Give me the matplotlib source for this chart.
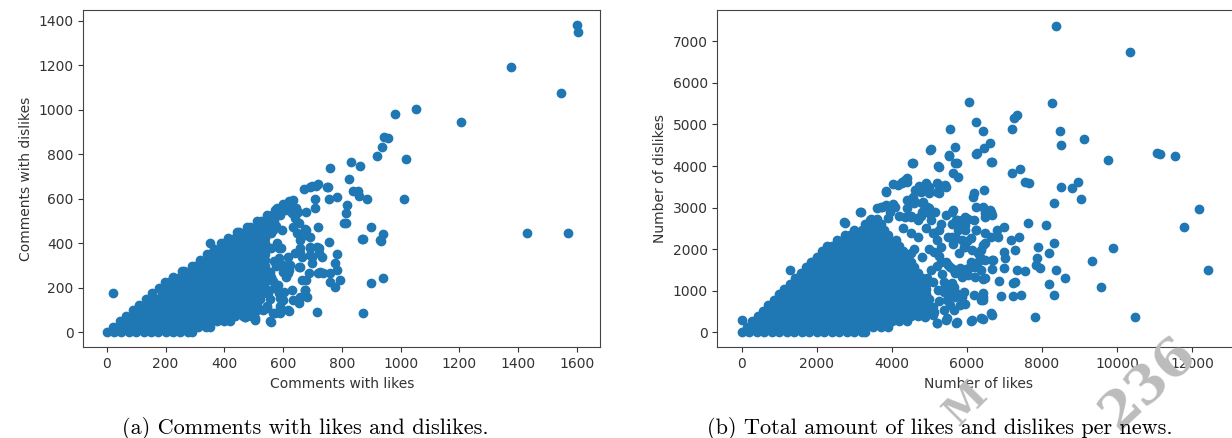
import numpy as np
import matplotlib.pyplot as plt

BLUE = "#1f77b4"

# ---- (a) comments with likes vs comments with dislikes ----
# dense wedge near the origin, read row by row (y level -> x values)
a_rows_y = [0, 25, 50, 75, 100, 125, 150, 175, 200, 225, 250, 275, 300,
            325, 350, 375, 400, 425, 450, 475, 500, 525, 550, 575]
a_rows_x = [
    [0, 25, 50, 75, 100, 125, 150, 175, 200, 225, 250, 275, 290],
    [22, 37, 62, 87, 112, 137, 162, 187, 212, 237, 262, 287, 312, 337, 352],
    [44, 75, 100, 125, 150, 175, 200, 225, 250, 275, 300, 325, 350, 375, 400, 420],
    [66, 87, 112, 137, 162, 187, 212, 237, 262, 287, 312, 337, 362, 387, 412, 437, 462, 490],
    [88, 100, 125, 150, 175, 200, 225, 250, 275, 300, 325, 350, 375, 400, 425, 450, 475, 500, 510],
    [110, 137, 162, 187, 212, 237, 262, 287, 312, 337, 362, 387, 412, 437, 462, 487, 512],
    [133, 150, 175, 200, 225, 250, 275, 300, 325, 350, 375, 400, 425, 450, 475, 500, 520],
    [155, 187, 212, 237, 262, 287, 312, 337, 362, 387, 412, 437, 462, 487, 512, 530],
    [177, 200, 225, 250, 275, 300, 325, 350, 375, 400, 425, 450, 475, 500, 525, 540],
    [199, 212, 237, 262, 287, 312, 337, 362, 387, 412, 437, 462, 487, 512, 537],
    [226, 250, 275, 300, 325, 350, 375, 400, 425, 450, 475, 500, 525, 540],
    [256, 262, 287, 312, 337, 362, 387, 412, 437, 462, 487, 512, 537],
    [290, 300, 325, 350, 375, 400, 425, 450, 475, 500, 525, 540],
    [317, 337, 362, 387, 412, 437, 462, 487, 512, 537],
    [340, 350, 375, 400, 425, 450, 475, 500, 525, 540],
    [364, 387, 412, 437, 462, 487, 512, 537],
    [388, 400, 425, 450, 475, 500, 525, 540],
    [411, 437, 462, 487, 512, 537],
    [442, 450, 475, 500, 525, 550],
    [476, 487, 512, 537, 560],
    [510, 525, 550, 570],
    [545, 562, 590],
    [573, 600],
    [600],
]
# scattered comments outside the wedge
a_x = [981, 1051, 943, 956, 935, 918, 1018, 1013, 830, 862, 761, 824, 839, 856,
       858, 887, 752, 720, 692, 671, 709, 756, 782, 819, 814, 807, 898, 873,
       941, 933, 939, 898, 872, 714, 720, 709, 678, 756, 782, 723, 731, 692,
       777, 782, 720, 735, 692, 697, 760, 777, 794, 658, 640, 658, 663, 674,
       682, 688, 624, 618, 587, 635, 674, 629, 617, 634, 629, 635, 618, 589,
       556, 567, 533, 504, 470, 603, 589, 601, 584, 618, 658, 674, 692, 1204,
       1375, 1600, 1603, 1546, 1429, 1571, 20, 352, 288, 750, 697, 713, 717,
       722, 693, 700, 726, 760, 659, 666, 653, 679, 673, 659, 653, 619, 559,
       586, 599, 589, 572, 546, 506, 472, 594, 586, 599, 619, 610, 597, 559,
       629, 639, 653, 679, 649, 813, 869, 931, 565, 560, 570, 555, 565, 550,
       560, 575, 580, 575, 560, 570, 555, 545, 610, 580, 620, 630, 645, 650]
a_y = [980, 1003, 879, 871, 834, 793, 780, 599, 766, 747, 738, 689, 636, 635,
       612, 599, 654, 665, 651, 642, 600, 599, 606, 570, 537, 490, 474, 418,
       440, 411, 245, 224, 85, 93, 474, 557, 542, 407, 352, 377, 340, 385,
       310, 280, 265, 265, 347, 310, 227, 205, 235, 355, 355, 295, 235, 190,
       160, 266, 302, 265, 377, 474, 463, 564, 581, 594, 190, 145, 100, 85,
       51, 85, 100, 63, 70, 182, 153, 272, 212, 340, 415, 437, 430, 946,
       1190, 1380, 1350, 1073, 448, 448, 175, 400, 10, 654, 659, 657, 385,
       355, 377, 340, 273, 265, 377, 340, 295, 235, 190, 160, 130, 97, 48,
       175, 145, 118, 85, 108, 55, 70, 377, 332, 302, 280, 250, 462, 445,
       537, 512, 490, 460, 445, 492, 418, 415, 460, 380, 320, 270, 230, 175,
       500, 480, 400, 300, 250, 200, 150, 120, 550, 560, 590, 590, 560, 540]

# ---- (b) likes vs dislikes per news ----
b_rows_y = [0, 130, 260, 390, 520, 650, 780, 910, 1040, 1170, 1300, 1430,
            1560, 1690, 1820, 1950, 2080, 2210, 2340, 2470, 2600, 2730]
b_rows_x = [
    [0, 200, 400, 600, 800, 1000, 1200, 1400, 1600, 1800, 2000, 2200, 2400, 2600, 2800, 3000, 3200, 3300],
    [143, 300, 500, 700, 900, 1100, 1300, 1500, 1700, 1900, 2100, 2300, 2500, 2700, 2900, 3100, 3300, 3500, 3700, 3900],
    [286, 400, 600, 800, 1000, 1200, 1400, 1600, 1800, 2000, 2200, 2400, 2600, 2800, 3000, 3200, 3400, 3600, 3800, 4000, 4200, 4400],
    [429, 500, 700, 900, 1100, 1300, 1500, 1700, 1900, 2100, 2300, 2500, 2700, 2900, 3100, 3300, 3500, 3700, 3900, 4100, 4300, 4500, 4700],
    [572, 690, 800, 1000, 1200, 1400, 1600, 1800, 2000, 2200, 2400, 2600, 2800, 3000, 3200, 3400, 3600, 3800, 4000, 4200, 4400, 4600, 4800, 4900],
    [715, 900, 1100, 1300, 1500, 1700, 1900, 2100, 2300, 2500, 2700, 2900, 3100, 3300, 3500, 3700, 3900, 4100, 4300, 4500, 4700, 4900],
    [858, 1000, 1200, 1400, 1600, 1800, 2000, 2200, 2400, 2600, 2800, 3000, 3200, 3400, 3600, 3800, 4000, 4200, 4400, 4600, 4800, 4900],
    [1001, 1100, 1300, 1500, 1700, 1900, 2100, 2300, 2500, 2700, 2900, 3100, 3300, 3500, 3700, 3900, 4100, 4300, 4500, 4700, 4900],
    [1144, 1200, 1400, 1600, 1800, 2000, 2200, 2400, 2600, 2800, 3000, 3200, 3400, 3600, 3800, 4000, 4200, 4400, 4600, 4800, 4900],
    [1287, 1500, 1700, 1900, 2100, 2300, 2500, 2700, 2900, 3100, 3300, 3500, 3700, 3900, 4100, 4300, 4500, 4700, 4900],
    [1430, 1600, 1800, 2000, 2200, 2400, 2600, 2800, 3000, 3200, 3400, 3600, 3800, 4000, 4200, 4400, 4600, 4800],
    [1573, 1700, 1900, 2100, 2300, 2500, 2700, 2900, 3100, 3300, 3500, 3700, 3900, 4100, 4300, 4500, 4700],
    [1716, 1800, 2000, 2200, 2400, 2600, 2800, 3000, 3200, 3400, 3600, 3800, 4000, 4200, 4400, 4600],
    [1859, 1900, 2100, 2300, 2500, 2700, 2900, 3100, 3300, 3500, 3700, 3900, 4100, 4300, 4500],
    [2002, 2200, 2400, 2600, 2800, 3000, 3200, 3400, 3600, 3800, 4000, 4200, 4400],
    [2145, 2300, 2500, 2700, 2900, 3100, 3300, 3500, 3700, 3900, 4100, 4300],
    [2288, 2400, 2600, 2800, 3000, 3200, 3400, 3600, 3800, 4000, 4200],
    [2550, 2700, 2900, 3100, 3300, 3500, 3700, 3900, 4100],
    [2750, 2900, 3100, 3300, 3500, 3700, 3900],
    [2990, 3200, 3400, 3600, 3800],
    [3280, 3500, 3700],
    [3450, 3600],
]
b_x = [8383, 10346, 6057, 8258, 5558, 6254, 6420, 7199, 7251, 7324, 8466, 8497,
       9110, 5039, 5693, 5527, 6254, 6462, 6628, 6669, 4540, 5246, 5734, 5631,
       5766, 7188, 7406, 7552, 7656, 9764, 11063, 11135, 11530, 8497, 8799,
       8955, 9027, 8331, 12184, 11769, 9899, 12413, 9318, 9557, 10471, 7812,
       8103, 8310, 8175, 7895, 7864, 7843, 7947, 8383, 8622, 8175, 8310, 7635,
       7376, 7168, 7293, 6991, 7011, 6981, 6804, 6835, 6991, 7324, 7552, 7220,
       7293, 6908, 7220, 7427, 6856, 6669, 6669, 6441, 6441, 6493, 6233, 6181,
       6233, 6420, 6493, 6628, 6669, 6462, 6181, 6150, 5631, 5734, 5870, 6026,
       6109, 5922, 5714, 5631, 6285, 6358, 6285, 6181, 6078, 5974, 5818, 5631,
       5558, 5506, 6441, 6441, 6181, 5922, 5714, 5953, 5818, 5662, 5402, 5475,
       5402, 5714, 5454, 5194, 6098, 6420, 6669, 5111, 4987, 4883, 5246, 5111,
       5298, 5194, 5121, 5246, 4987, 4935, 4831, 4914, 4987, 4779, 4727, 4623,
       4571, 4416, 5246, 5454, 5246, 4416, 4343, 4260, 4156, 3844, 3740, 3844,
       4021, 4083, 3169, 2754, 3408, 3501, 4364, 4519, 4675, 4779, 1303, 2730,
       3155, 3717, 3833, 4555, 4273, 4405, 4035, 5224, 5683, 6282, 6652, 5525,
       5023, 5198, 5419, 5215, 4713, 4933, 4978, 4626, 4801, 4819, 5594, 5440,
       5771, 5947, 5947, 5771, 5947, 5594, 5859, 5947, 6123, 6255, 6475, 6475,
       6652, 6652, 6475, 6387, 6696, 6475, 6211, 6387, 6211, 6035, 5859, 5682,
       5594, 5418, 5242, 5506, 5682, 5859, 6475, 6431, 6387, 6652, 6387, 6123,
       5726, 5462, 5198, 5110, 0, 5050, 5100, 5000, 5050, 5150, 5000, 5300,
       5200, 5350, 5000, 5100, 5250, 5400, 5450, 5500, 5600, 5700, 4500, 4700,
       4400, 4600, 4800, 4300, 4500, 4700, 4900, 4600, 4800, 4500, 3600, 3950,
       4200, 3900, 5650, 5800, 6000, 6100, 5550, 5300, 5100, 4950]
b_y = [7378, 6753, 5550, 5510, 4884, 5069, 4852, 4884, 5149, 5229, 4852, 4507,
       4660, 4403, 4467, 4243, 4283, 4443, 4547, 4098, 4066, 3986, 4066, 3842,
       3745, 3842, 3922, 3625, 3585, 4146, 4323, 4283, 4251, 3505, 3465,
       3625, 3208, 3104, 2959, 2542, 2021, 1500, 1724, 1083, 377, 377,
       2582, 2157, 1901, 2061, 1780, 1620, 1540, 1500, 1315, 1155, 898, 2622,
       2286, 2222, 1981, 1941, 1780, 1540, 2462, 2302, 2542, 1500, 1484, 1179,
       1203, 874, 874, 898, 1235, 1516, 1740, 1275, 2101, 2382, 2462, 2703,
       3024, 3024, 2863, 2943, 2823, 3424, 3344, 3264, 2943, 2703, 2703, 2719,
       2262, 2061, 2262, 2125, 1917, 1820, 1700, 1580, 1580, 1516, 1540, 1516,
       1580, 1620, 938, 778, 898, 978, 938, 674, 658, 537, 537, 778,
       978, 233, 297, 233, 273, 313, 417, 497, 577, 377, 1836, 1941,
       2061, 2222, 2382, 2462, 2863, 3024, 3144, 3585, 3505, 3384, 3465, 3424,
       3264, 3184, 3545, 3505, 3344, 3625, 3665, 3585, 3545, 3400, 3007, 3064,
       3088, 3007, 2887, 2638, 2703, 2606, 2783, 2783, 2743, 2799, 1500, 2661,
       2886, 3021, 3383, 4065, 3608, 3704, 3560, 4000, 4065, 4306, 4090, 4265,
       4386, 3584, 3544, 3364, 3520, 3488, 3343, 3142, 3102, 2901, 2901, 2821,
       2661, 2581, 2781, 2460, 2460, 2300, 2220, 2060, 1979, 2460, 2781, 2942,
       2902, 2300, 2140, 1979, 1739, 1739, 1578, 1498, 1338, 1378, 1338, 1418,
       1177, 1097, 1017, 937, 857, 857, 1298, 857, 776, 456, 335, 295,
       255, 335, 231, 416, 300, 1500, 1200, 2000, 2700, 2900, 3000, 2600,
       1600, 1400, 800, 600, 750, 1200, 1700, 2300, 2600, 2700, 2800, 2700,
       3000, 3100, 2900, 2500, 2400, 2300, 2500, 2000, 1800, 1900, 3000, 2900,
       2800, 2750, 1100, 1900, 2200, 1700, 650, 1700, 2400, 1300]


def flatten(rows_y, rows_x, xs, ys):
    px = [x for row in rows_x for x in row] + list(xs)
    py = [y for y, row in zip(rows_y, rows_x) for _ in row] + list(ys)
    return np.array(px), np.array(py)


plt.rcParams.update({"font.family": "DejaVu Sans", "font.size": 10})
fig = plt.figure(figsize=(12.32, 4.38), dpi=100)
W, H = 1232, 438
axA = fig.add_axes([83.3 / W, 1 - 347.3 / H, (600.4 - 83.3) / W, 337.3 / H])
axB = fig.add_axes([717.4 / W, 1 - 347.3 / H, (1240 - 717.4) / W, 337.3 / H])

xa, ya = flatten(a_rows_y, a_rows_x, a_x, a_y)
axA.scatter(xa, ya, s=36, color=BLUE, linewidths=1.0, edgecolors=BLUE)
axA.set_xlim(-80, 1680)
axA.set_ylim(-67, 1448)
axA.set_xticks([0, 200, 400, 600, 800, 1000, 1200, 1400, 1600])
axA.set_yticks([0, 200, 400, 600, 800, 1000, 1200, 1400])
axA.set_xlabel("Comments with likes", color="#333333")
axA.set_ylabel("Comments with dislikes", color="#333333")

xb, yb = flatten(b_rows_y, b_rows_x, b_x, b_y)
axB.scatter(xb, yb, s=36, color=BLUE, linewidths=1.0, edgecolors=BLUE)
axB.set_xlim(-642, 13270)
axB.set_ylim(-361, 7753)
axB.set_xticks([0, 2000, 4000, 6000, 8000, 10000, 12000])
axB.set_yticks([0, 1000, 2000, 3000, 4000, 5000, 6000, 7000])
axB.set_xlabel("Number of likes", color="#333333")
axB.set_ylabel("Number of dislikes", color="#333333")

for ax in (axA, axB):
    ax.tick_params(colors="#333333", labelcolor="#333333")
    for sp in ax.spines.values():
        sp.set_color("#444444")

# faint watermark behind the captions
fig.text(966 / W, 1 - 404 / H, "M", fontsize=28, color="#bcbcbc", rotation=45,
         ha="center", va="center", weight="bold", family="DejaVu Serif", zorder=0)
fig.text(1148 / W, 1 - 383 / H, "236", fontsize=38, color="#bcbcbc", rotation=43,
         ha="center", va="center", weight="bold", family="DejaVu Serif", zorder=0)

fig.text(305 / W, 1 - 428 / H, "(a) Comments with likes and dislikes.",
         family="cmr10", fontsize=16, ha="center", va="center", zorder=5)
fig.text(940 / W, 1 - 428 / H, "(b) Total amount of likes and dislikes per news.",
         family="cmr10", fontsize=16, ha="center", va="center", zorder=5)

fig.savefig("out.png", dpi=100)
